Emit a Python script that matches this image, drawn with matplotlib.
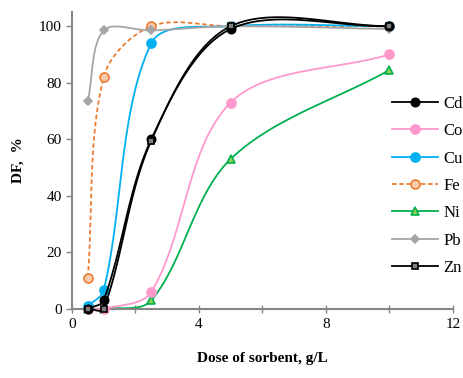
import numpy as np
import matplotlib.pyplot as plt

plt.rcParams['font.family'] = ['Liberation Serif', 'DejaVu Serif']

dose = [0.5, 1, 2.5, 5, 10]
cd = [0, 3, 60, 99, 100]
co = [0, 0, 6, 73, 90]
cu = [1, 6.5, 94, 100, 100]
fe = [11, 82, 100, 100, 100]
ni = [0, 0, 3, 53, 84.5]
pb = [73.5, 98.5, 98.5, 100, 99]
zn = [0, 0, 59.5, 100, 100]

# approximate screen scale (px per data unit) used for the smoothing
SX, SY = 31.75, 2.83


def smooth(x, y, n=30):
    # smoothed line like Excel: bezier with chord-length scaled tangents
    p = np.column_stack([np.asarray(x, float) * SX, np.asarray(y, float) * SY])
    m = len(p)
    d = np.linalg.norm(np.diff(p, axis=0), axis=1)
    tang = np.zeros_like(p)
    for i in range(m):
        if i == 0:
            tang[i] = (p[1] - p[0]) / d[0]
        elif i == m - 1:
            tang[i] = (p[-1] - p[-2]) / d[-1]
        else:
            tang[i] = (p[i + 1] - p[i - 1]) / (d[i - 1] + d[i])
    pts = [p[0]]
    t = np.linspace(0, 1, n)[1:, None]
    for i in range(m - 1):
        p1, p2 = p[i], p[i + 1]
        c1 = p1 + tang[i] * d[i] / 3
        c2 = p2 - tang[i + 1] * d[i] / 3
        b = (1 - t) ** 3 * p1 + 3 * (1 - t) ** 2 * t * c1 + 3 * (1 - t) * t ** 2 * c2 + t ** 3 * p2
        pts.extend(b)
    pts = np.array(pts)
    return pts[:, 0] / SX, pts[:, 1] / SY


fig = plt.figure(figsize=(4.64, 3.78), dpi=100)
ax = fig.add_axes([0.155, 0.183, 0.821, 0.785])

series = [
    ("Cd", cd, dict(color="black", ls="-", marker="o", mfc="black", mec="black", ms=6)),
    ("Co", co, dict(color="#ff99cc", ls="-", marker="o", mfc="#ff99cc", mec="#ff99cc", ms=6.5)),
    ("Cu", cu, dict(color="#00b0f0", ls="-", marker="o", mfc="#00b0f0", mec="#00b0f0", ms=6.5)),
    ("Fe", fe, dict(color="#ed7d31", ls=(0, (2.5, 1.5)), marker="o", mfc="#f8cbad", mec="#ed7d31", ms=6.5)),
    ("Ni", ni, dict(color="#00b050", ls="-", marker="^", mfc="#92d050", mec="#00b050", ms=6)),
    ("Pb", pb, dict(color="#a5a5a5", ls="-", marker="D", mfc="#a5a5a5", mec="#a5a5a5", ms=4.5)),
    ("Zn", zn, dict(color="black", ls="-", marker="s", mfc="#7f7f7f", mec="black", ms=5)),
]

order = ["Ni", "Co", "Fe", "Cu", "Pb", "Cd", "Zn"]
handles = {}
for name, vals, st in series:
    sx, sy = smooth(dose, vals)
    z = order.index(name) + 2
    ax.plot(sx, sy, color=st["color"], ls=st["ls"], lw=1.3, zorder=z, clip_on=False)
    ax.plot(dose, vals, ls="none", marker=st["marker"], mfc=st["mfc"],
            mec=st["mec"], ms=st["ms"], mew=1.2, zorder=z + 0.5, clip_on=False)
    h, = ax.plot([], [], color=st["color"], ls=st["ls"], lw=1.3, marker=st["marker"],
                 mfc=st["mfc"], mec=st["mec"], ms=st["ms"], mew=1.2)
    handles[name] = h

ax.legend([handles[n] for n, _, _ in series], [n for n, _, _ in series],
          loc="upper left", bbox_to_anchor=(0.8, 0.768), frameon=False,
          fontsize=12, handlelength=2.8, labelspacing=0.68, handletextpad=0.3)

ax.set_xlim(0, 12)
ax.set_ylim(0, 105)
ax.set_xticks([0, 4, 8, 12])
ax.set_xticks([2, 6, 10], minor=True)
ax.set_yticks([0, 20, 40, 60, 80, 100])
for s in ["top", "right"]:
    ax.spines[s].set_visible(False)
for s in ["left", "bottom"]:
    ax.spines[s].set_color("#868686")
    ax.spines[s].set_linewidth(1.5)
ax.tick_params(which="both", colors="#868686", labelcolor="black", labelsize=11,
               length=4, width=1)
ax.tick_params(axis="x", which="both", direction="inout", length=6)

ax.set_xlabel("Dose of sorbent, g/L", fontsize=11, fontweight="bold", labelpad=15)
ax.set_ylabel("DF,  %", fontsize=11, fontweight="bold", labelpad=10)

fig.savefig("out.png", dpi=100)
